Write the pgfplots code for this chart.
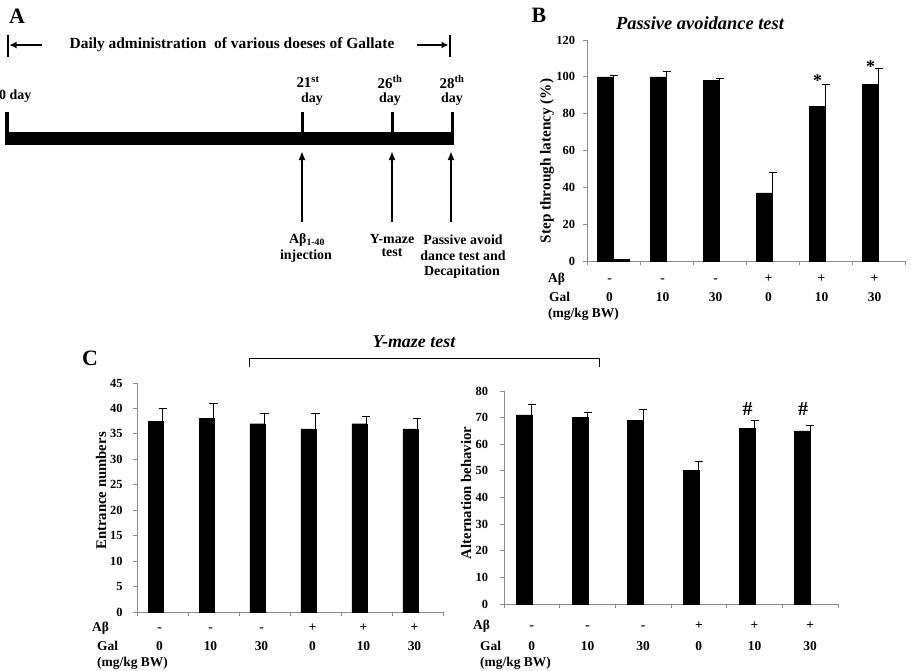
\documentclass[border=0pt]{standalone}
\usepackage{fontspec}
\setmainfont{Liberation Serif}
\usepackage{pgfplots}
\pgfplotsset{compat=1.18}
\usetikzlibrary{arrows.meta}
\definecolor{axgray}{rgb}{0.55,0.55,0.55}
\newcommand{\fs}[1]{\fontsize{#1}{#1}\selectfont}
\pgfplotsset{
  panel/.style={
    scale only axis, anchor=south west,
    xmin=-0.5, xmax=5.5,
    xtick={-0.5,0.5,1.5,2.5,3.5,4.5,5.5},
    xticklabel=\empty,
    axis x line*=bottom, axis y line*=left,
    axis line style={axgray, line width=0.8bp},
    tick style={axgray, line width=0.8bp},
    tick align=outside, major tick length=4bp,
    ymin=0,
    yticklabel style={font=\bfseries\fs{12.5}},
    /pgf/number format/assume math mode=true,
    clip=false,
  },
  bars/.style={ybar, fill=black, draw=black, line width=0.4bp,
    error bars/y dir=plus, error bars/y explicit,
    error bars/error bar style={black, line width=0.9bp},
    error bars/error mark options={rotate=90, mark size=4bp, black, line width=0.9bp}},
}
\tikzset{
  cat/.style={font=\bfseries\fs{13.5}, inner sep=0pt, text height=9.2bp, text depth=0pt},
  lblA/.style={font=\bfseries\fs{14}, inner sep=0pt},
  ylab/.style={font=\bfseries\fs{14.8}, rotate=90, inner sep=0pt},
}
\newcommand{\catrow}[3]{%
  \foreach \i/\a/\g in {0/-/0,1/-/10,2/-/30,3/+/0,4/+/10,5/+/30}{%
    \edef\tmp{\noexpand\node[cat,xshift=#1bp,yshift=-#2bp] at (axis cs:\i,0) {\a};
      \noexpand\node[cat,xshift=#1bp,yshift=-#3bp] at (axis cs:\i,0) {\g};}\tmp}}
\begin{document}
\begin{tikzpicture}
\useasboundingbox (0,0) rectangle (911bp,-671bp);
% ---------- Panel A (timeline diagram) ----------
\begin{scope}[x=1bp,y=-1bp]
\node[font=\bfseries\fs{22}, inner sep=0] at (17,16) {A};
\draw[line width=2.5bp] (8,35) -- (8,57);
\draw[line width=2.5bp, -{Latex[length=7bp,width=7bp]}] (42,45) -- (9.5,45);
\node[font=\bfseries\fs{15.5}, inner sep=0] at (232,45) {Daily administration\ \ of various doeses of Gallate};
\draw[line width=2.5bp, -{Latex[length=7bp,width=7bp]}] (417,45) -- (448.5,45);
\draw[line width=2.5bp] (450,35) -- (450,57);
\fill (5,132) rectangle (454,145);
\foreach \x in {7,302,392,452} \draw[line width=3bp] (\x,112) -- (\x,133);
\foreach \x in {302,392,451} \draw[line width=2.5bp, -{Latex[length=9bp,width=7bp]}] (\x,222) -- (\x,151);
\node[lblA, anchor=west] at (-1,96) {0 day};
\node[lblA, font=\bfseries\fs{15}] at (308,82) {21\textsuperscript{st}};
\node[lblA] at (312,99) {day};
\node[lblA, font=\bfseries\fs{15}] at (390,82) {26\textsuperscript{th}};
\node[lblA] at (390,99) {day};
\node[lblA, font=\bfseries\fs{15}] at (452,82) {28\textsuperscript{th}};
\node[lblA] at (452,99) {day};
\node[lblA] at (307,240) {Aβ\textsubscript{1-40}};
\node[lblA] at (306,256) {injection};
\node[lblA] at (392,239) {Y-maze};
\node[lblA] at (392,253) {test};
\node[lblA] at (463,240) {Passive avoid};
\node[lblA] at (463,256) {dance test and};
\node[lblA] at (462,272) {Decapitation};
% ---------- Panel B texts ----------
\node[font=\bfseries\fs{22}, inner sep=0] at (539,15) {B};
\node[font=\bfseries\itshape\fs{18.5}, inner sep=0] at (700,23) {Passive avoidance test};
\node[ylab, font=\bfseries\fs{15.3}] at (547,161) {Step through latency (\%)};
\node[cat, anchor=west] at (548,278) {Aβ};
\node[cat, anchor=west] at (549,297) {Gal};
\node[cat, anchor=west] at (548,313) {(mg/kg BW)};
% ---------- Panel C texts ----------
\node[font=\bfseries\fs{22}, inner sep=0] at (90,358) {C};
\node[font=\bfseries\itshape\fs{18}, inner sep=0] at (414,342) {Y-maze test};
\draw[line width=1bp] (249,367) -- (249,358) -- (599,358) -- (599,367);
\node[ylab] at (101,491) {Entrance numbers};
\node[ylab] at (466,493) {Alternation behavior};
\node[cat, anchor=west] at (92,627) {Aβ};
\node[cat, anchor=west] at (97,646) {Gal};
\node[cat, anchor=west] at (97,662) {(mg/kg BW)};
\node[cat, anchor=west] at (473,625) {Aβ};
\node[cat, anchor=west] at (480,646) {Gal};
\node[cat, anchor=west] at (480,662) {(mg/kg BW)};
\end{scope}
% ---------- Panel B axis ----------
\begin{axis}[panel, at={(587bp,-261bp)}, width=318bp, height=221bp,
  ymax=120, ytick={0,20,...,120},
  yticklabel style={xshift=-4.5bp}]
\addplot[bars, bar width=16bp, bar shift=-8bp] coordinates {
  (0,100) +- (0,1)
  (1,100) +- (0,3)
  (2,98) +- (0,1)
  (3,37) +- (0,11)
  (4,84) +- (0,12)
  (5,96) +- (0,8.5)
};
\addplot[ybar, fill=black, draw=black, bar width=16bp, bar shift=8bp] coordinates {(0,1)};
\node[font=\bfseries\fs{18}, inner sep=0, anchor=base, xshift=-8bp] at (axis cs:4,95) {*};
\node[font=\bfseries\fs{18}, inner sep=0, anchor=base, xshift=-8bp] at (axis cs:5,102.6) {*};
\catrow{-4}{17}{36}
\end{axis}
% ---------- Panel C left axis ----------
\begin{axis}[panel, at={(137bp,-612bp)}, width=306bp, height=229bp,
  ymax=45, ytick={0,5,...,45},
  yticklabel style={xshift=-7bp}]
\addplot[bars, bar width=15bp, bar shift=-7bp] coordinates {
  (0,37.5) +- (0,2.5)
  (1,38) +- (0,3)
  (2,37) +- (0,2)
  (3,36) +- (0,3)
  (4,37) +- (0,1.5)
  (5,36) +- (0,2)
};
\catrow{-3}{15}{34}
\end{axis}
% ---------- Panel C right axis ----------
\begin{axis}[panel, at={(504bp,-604bp)}, width=334bp, height=213bp,
  ymax=80, ytick={0,10,...,80},
  yticklabel style={xshift=-8.5bp}]
\addplot[bars, bar width=16bp, bar shift=-7.5bp] coordinates {
  (0,71) +- (0,4)
  (1,70) +- (0,2)
  (2,69) +- (0,4)
  (3,50.3) +- (0,3.4)
  (4,66) +- (0,3)
  (5,65) +- (0,2)
};
\node[font=\bfseries\fs{20}, inner sep=0, xshift=-7bp] at (axis cs:4,73.2) {\#};
\node[font=\bfseries\fs{20}, inner sep=0, xshift=-7bp] at (axis cs:5,73.2) {\#};
\catrow{0}{21}{42}
\end{axis}
\end{tikzpicture}
\end{document}
